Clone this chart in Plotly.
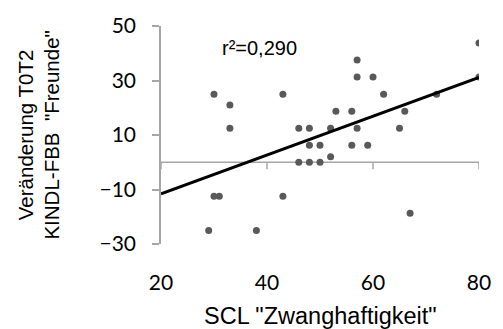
import plotly.graph_objects as go

# data
scl_x = [30, 33, 33, 43, 46, 48, 48, 50, 46, 48, 50, 30, 31, 43, 29, 38,
         80, 80, 57, 57, 60, 62, 72, 53, 56, 66, 52, 57, 65, 56, 59, 52, 67]
change_y = [25, 21, 12.5, 25, 12.5, 12.5, 6.25, 6.25, 0, 0, 0, -12.5, -12.5, -12.5, -25, -25,
            43.75, 31.25, 37.5, 31.25, 31.25, 25, 25, 18.75, 18.75, 18.75, 12.5, 12.5, 12.5,
            6.25, 6.25, 2, -18.75]
fit_intercept = -25.85
fit_slope = 0.712
fit_x = [20, 80]
r2_label = "r²=0,290"
x_ticks = [20, 40, 60, 80]
y_ticks = [50, 30, 10, -10, -30]

axis_grey = "#a6a6a6"
tick_font = dict(family="Lato, Open Sans, sans-serif", size=21, color="#000000")

fig = go.Figure()
fig.add_trace(go.Scatter(
    x=scl_x, y=change_y, mode="markers",
    marker=dict(size=7, color="#595959", line=dict(width=0)),
    showlegend=False, hoverinfo="skip"))
fig.add_trace(go.Scatter(
    x=fit_x, y=[fit_intercept + fit_slope * v for v in fit_x], mode="lines",
    line=dict(color="#000000", width=3), showlegend=False, hoverinfo="skip"))

# x axis line at y = 0 with outward ticks
fig.add_shape(type="line", xref="x", yref="y", x0=x_ticks[0], x1=x_ticks[-1], y0=0, y1=0,
              line=dict(color=axis_grey, width=1.5), layer="below")
for t in x_ticks:
    fig.add_shape(type="line", xref="x", yref="y", ysizemode="pixel", yanchor=0,
                  x0=t, x1=t, y0=0, y1=-7, line=dict(color=axis_grey, width=1.5), layer="below")

fig.add_annotation(x=38.6, y=41.9, xref="x", yref="y", text=r2_label, showarrow=False,
                   font=dict(family="Liberation Sans, Arial, sans-serif", size=20, color="#000000"))

fig.add_annotation(x=0.5, y=-0.33, xref="paper", yref="paper", xanchor="center", yanchor="middle",
                   text='SCL "Zwanghaftigkeit"', showarrow=False,
                   font=dict(family="Liberation Sans, Arial, sans-serif", size=23.5, color="#000000"))
fig.add_annotation(x=-0.385, y=0.5, xref="paper", yref="paper", xanchor="center", yanchor="middle",
                   text='Veränderung T0T2<br>KINDL-FBB  "Freunde"', showarrow=False,
                   textangle=-90,
                   font=dict(family="Liberation Sans, Arial, sans-serif", size=20.5, color="#000000"))

fig.update_layout(
    width=503, height=329,
    margin=dict(l=161, r=17, t=23, b=85),
    paper_bgcolor="white", plot_bgcolor="white",
    xaxis=dict(range=[20, 80], tickvals=x_ticks, showgrid=False, zeroline=False,
               showline=False, ticks="", tickfont=tick_font, ticklabelstandoff=24),
    yaxis=dict(range=[-30, 50], tickvals=y_ticks, showgrid=False, zeroline=False,
               showline=True, linecolor=axis_grey, linewidth=1.5, ticks="outside",
               ticklen=7, tickcolor=axis_grey, tickwidth=1.5, tickfont=tick_font,
               ticklabelstandoff=12),
)

fig.write_html("out.html")
